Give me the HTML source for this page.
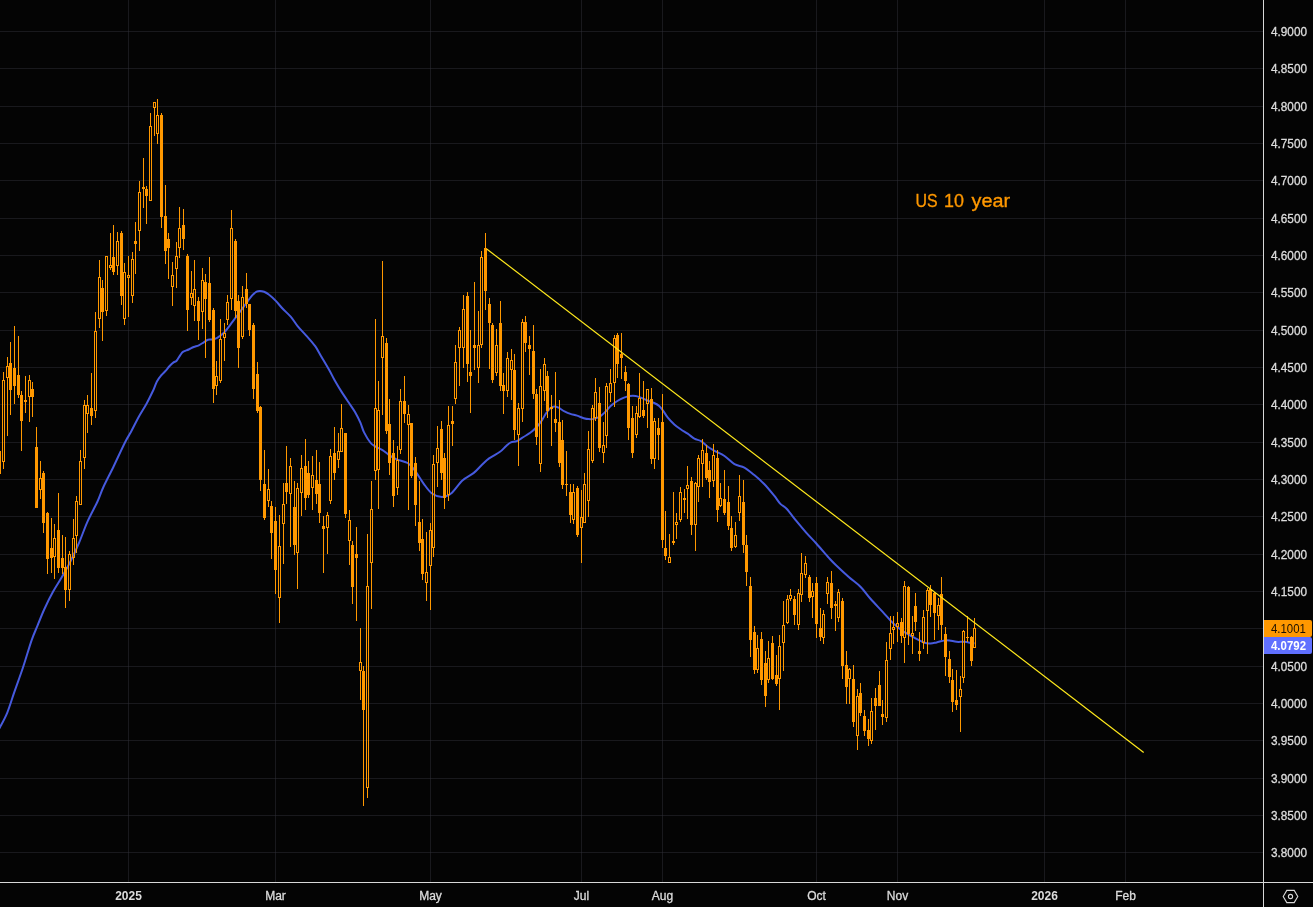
<!DOCTYPE html><html><head><meta charset="utf-8"><title>US 10 year</title>
<style>
html,body{margin:0;padding:0;background:#040404;}
body{width:1313px;height:907px;overflow:hidden;position:relative;font-family:"Liberation Sans","DejaVu Sans",sans-serif;}
svg{position:absolute;left:0;top:0;display:block}
.ax{fill:#dcdcdc;font-size:12px;stroke:#dcdcdc;stroke-width:0.3px;}
.b{font-weight:bold;stroke:none}
</style></head><body>
<svg width="1313" height="907" viewBox="0 0 1313 907">
<rect width="1313" height="907" fill="#040404"/>
<g fill="#32343c" fill-opacity="0.45" shape-rendering="crispEdges"><rect x="0" y="31" width="1263" height="1"/><rect x="0" y="68" width="1263" height="1"/><rect x="0" y="106" width="1263" height="1"/><rect x="0" y="143" width="1263" height="1"/><rect x="0" y="180" width="1263" height="1"/><rect x="0" y="218" width="1263" height="1"/><rect x="0" y="255" width="1263" height="1"/><rect x="0" y="292" width="1263" height="1"/><rect x="0" y="330" width="1263" height="1"/><rect x="0" y="367" width="1263" height="1"/><rect x="0" y="404" width="1263" height="1"/><rect x="0" y="442" width="1263" height="1"/><rect x="0" y="479" width="1263" height="1"/><rect x="0" y="516" width="1263" height="1"/><rect x="0" y="554" width="1263" height="1"/><rect x="0" y="591" width="1263" height="1"/><rect x="0" y="628" width="1263" height="1"/><rect x="0" y="666" width="1263" height="1"/><rect x="0" y="703" width="1263" height="1"/><rect x="0" y="740" width="1263" height="1"/><rect x="0" y="778" width="1263" height="1"/><rect x="0" y="815" width="1263" height="1"/><rect x="0" y="852" width="1263" height="1"/><rect x="128" y="0" width="1" height="882"/><rect x="275" y="0" width="1" height="882"/><rect x="430" y="0" width="1" height="882"/><rect x="581" y="0" width="1" height="882"/><rect x="662" y="0" width="1" height="882"/><rect x="816" y="0" width="1" height="882"/><rect x="897" y="0" width="1" height="882"/><rect x="1044" y="0" width="1" height="882"/><rect x="1125" y="0" width="1" height="882"/></g>
<path fill="none" stroke="#465ade" stroke-width="2" stroke-linejoin="round" d="M-1.0 729.0C-0.8 728.7 -1.4 729.9 0.0 727.2C1.4 724.5 4.8 718.6 7.2 712.8C9.6 707.0 11.7 699.7 14.3 692.2C16.9 684.7 20.0 676.4 22.9 667.8C25.8 659.2 29.1 647.5 31.5 640.6C33.9 633.7 35.1 631.5 37.3 626.2C39.4 620.9 41.8 614.7 44.4 609.0C47.0 603.3 50.1 597.0 53.0 591.8C55.9 586.5 58.7 582.5 61.6 577.5C64.5 572.5 67.4 567.4 70.3 561.7C73.2 556.0 76.0 549.8 78.9 543.1C81.8 536.4 84.4 528.5 87.5 521.6C90.6 514.7 94.8 507.3 97.5 501.5C100.2 495.7 100.7 492.9 103.4 487.0C106.1 481.1 110.1 473.7 113.7 466.2C117.3 458.7 122.2 447.9 125.1 442.2C128.0 436.5 128.7 436.1 130.9 432.0C133.1 427.9 135.8 422.2 138.4 417.4C141.1 412.6 144.3 407.8 146.8 403.2C149.3 398.6 151.8 393.4 153.5 389.8C155.2 386.2 155.6 383.8 156.9 381.4C158.2 379.0 159.7 377.2 161.1 375.5C162.5 373.8 163.8 372.8 165.2 371.3C166.6 369.8 168.0 367.8 169.4 366.3C170.8 364.8 172.4 363.3 173.6 362.4C174.8 361.5 175.5 362.0 176.6 360.8C177.7 359.6 179.2 356.6 180.3 355.1C181.4 353.6 181.9 352.6 183.3 351.7C184.7 350.8 187.0 350.3 188.7 349.5C190.4 348.7 192.0 347.7 193.7 347.0C195.4 346.3 197.1 346.1 198.8 345.3C200.5 344.5 202.3 343.2 203.8 342.3C205.3 341.4 206.6 340.3 208.0 339.8C209.4 339.3 210.7 339.8 212.2 339.5C213.7 339.2 215.2 338.9 217.2 337.8C219.1 336.7 221.7 335.0 223.9 332.8C226.1 330.6 228.7 326.9 230.6 324.4C232.5 321.9 233.9 319.9 235.6 317.7C237.3 315.5 238.6 313.6 240.6 311.0C242.6 308.4 245.3 304.4 247.3 301.8C249.3 299.2 250.8 296.8 252.4 295.1C254.0 293.4 255.4 292.4 256.6 291.7C257.9 291.0 258.6 290.9 259.9 290.9C261.1 290.9 262.6 291.1 264.1 291.7C265.6 292.3 267.2 293.2 269.1 294.7C271.1 296.2 273.6 298.6 275.8 300.9C278.0 303.2 280.0 305.8 282.5 308.5C285.0 311.2 288.4 314.0 290.9 316.9C293.4 319.8 295.1 323.0 297.6 326.1C300.1 329.2 303.1 332.0 306.0 335.3C308.9 338.6 312.7 342.7 315.2 346.2C317.7 349.7 318.7 352.1 321.1 356.2C323.5 360.2 327.3 366.5 329.5 370.5C331.7 374.5 332.5 376.5 334.5 380.0C336.5 383.5 338.9 387.6 341.3 391.4C343.7 395.2 346.6 399.4 348.9 402.8C351.2 406.2 353.1 408.7 355.0 412.0C356.9 415.3 358.9 419.3 360.4 422.7C361.9 426.1 362.5 429.3 364.2 432.6C365.9 435.9 368.4 440.1 370.3 442.5C372.2 444.9 373.6 445.4 375.6 446.7C377.6 448.0 380.4 448.8 382.5 450.1C384.6 451.4 386.2 453.1 388.5 454.6C390.8 456.1 393.0 457.8 396.2 459.2C399.4 460.6 404.6 461.2 407.6 463.0C410.6 464.8 411.7 466.5 414.4 469.9C417.1 473.3 420.7 479.7 423.6 483.6C426.5 487.5 428.9 491.3 432.0 493.5C435.1 495.7 438.7 497.0 441.9 497.0C445.1 497.0 447.6 496.2 451.0 493.5C454.4 490.8 458.6 483.9 462.4 480.5C466.2 477.1 470.6 475.4 473.8 472.9C477.0 470.4 478.9 467.7 481.5 465.3C484.1 462.9 486.0 460.6 489.1 458.4C492.2 456.1 497.2 453.8 500.0 451.8C502.8 449.8 504.1 447.8 505.9 446.2C507.7 444.6 509.1 443.2 510.9 442.4C512.7 441.6 514.7 442.1 516.8 441.2C518.9 440.3 521.3 438.4 523.5 437.0C525.7 435.6 528.1 434.3 530.2 432.8C532.3 431.3 534.0 429.9 536.0 427.8C538.0 425.7 540.2 422.7 541.9 420.3C543.6 417.9 544.7 415.2 546.1 413.2C547.5 411.2 548.9 409.3 550.3 408.2C551.7 407.1 553.1 406.6 554.5 406.5C555.9 406.4 556.9 406.9 558.6 407.7C560.3 408.5 562.5 410.4 564.5 411.4C566.5 412.4 568.3 413.2 570.4 413.9C572.5 414.6 574.9 414.9 577.1 415.6C579.3 416.3 581.8 417.7 583.8 418.3C585.8 418.9 587.0 419.1 588.8 419.1C590.6 419.2 592.8 419.1 594.7 418.6C596.7 418.1 598.7 417.3 600.5 416.1C602.3 414.9 603.9 413.3 605.6 411.6C607.3 409.9 608.7 407.8 610.6 406.0C612.5 404.2 615.1 402.4 617.3 401.0C619.5 399.6 621.9 398.4 624.0 397.6C626.1 396.8 627.9 396.3 629.9 396.0C631.9 395.7 633.9 395.7 635.7 396.0C637.5 396.3 638.8 396.9 640.8 397.6C642.8 398.4 645.3 399.6 647.5 400.5C649.7 401.4 652.2 402.1 654.2 403.0C656.2 403.9 657.7 404.6 659.2 406.0C660.7 407.4 662.0 409.2 663.4 411.1C664.8 413.0 665.8 415.2 667.6 417.4C669.4 419.6 672.1 422.5 674.3 424.5C676.5 426.5 678.8 428.0 681.0 429.5C683.2 431.0 685.5 432.2 687.7 433.7C689.9 435.2 692.2 437.4 694.4 438.7C696.6 439.9 698.9 439.9 701.1 441.2C703.3 442.5 705.6 445.1 707.8 446.7C710.0 448.3 711.7 449.2 714.5 450.8C717.3 452.4 721.2 453.8 724.5 456.0C727.8 458.2 731.2 462.3 734.5 464.2C737.8 466.1 741.1 465.8 744.4 467.6C747.7 469.4 751.0 472.4 754.3 475.1C757.6 477.8 760.9 480.6 764.2 484.0C767.5 487.4 771.5 492.4 774.2 495.7C776.9 499.0 778.3 501.7 780.4 503.9C782.5 506.1 783.9 505.9 786.6 508.8C789.3 511.7 793.2 517.2 796.5 521.2C799.8 525.2 803.1 529.2 806.4 532.9C809.7 536.6 812.6 539.4 816.3 543.5C820.0 547.6 825.5 554.1 828.7 557.7C832.0 561.3 832.4 561.8 835.8 565.0C839.1 568.2 844.6 573.3 848.8 577.0C852.9 580.7 857.1 583.3 860.7 587.0C864.4 590.7 867.0 594.9 870.7 599.0C874.4 603.1 879.0 607.9 882.7 611.9C886.4 615.9 889.4 619.7 892.7 622.9C896.0 626.1 899.0 628.4 902.6 630.9C906.2 633.4 910.9 635.8 914.6 637.8C918.3 639.8 921.9 641.9 924.6 642.8C927.3 643.7 928.6 643.5 930.6 643.4C932.6 643.3 934.0 642.9 936.6 642.4C939.2 641.9 943.2 640.3 946.5 640.2C949.8 640.1 953.5 641.5 956.5 641.8C959.5 642.1 961.8 641.6 964.5 641.8C967.2 642.0 970.8 643.0 972.5 643.2C974.2 643.5 974.2 643.3 974.5 643.3"/>
<g fill="#ff9800" fill-rule="evenodd" shape-rendering="crispEdges"><rect x="3" y="372" width="1" height="8"/><rect x="3" y="462" width="1" height="7"/><rect x="7" y="357" width="1" height="9"/><rect x="7" y="378" width="1" height="58"/><rect x="10" y="342" width="1" height="21"/><rect x="10" y="390" width="1" height="25"/><rect x="14" y="326" width="1" height="42"/><rect x="14" y="386" width="1" height="18"/><rect x="18" y="336" width="1" height="39"/><rect x="18" y="395" width="1" height="3"/><rect x="21" y="391" width="1" height="4"/><rect x="21" y="421" width="1" height="30"/><rect x="25" y="376" width="1" height="24"/><rect x="25" y="402" width="1" height="11"/><rect x="29" y="375" width="1" height="5"/><rect x="29" y="397" width="1" height="25"/><rect x="32" y="382" width="1" height="7"/><rect x="32" y="397" width="1" height="20"/><rect x="36" y="427" width="1" height="20"/><rect x="40" y="461" width="1" height="17"/><rect x="40" y="490" width="1" height="9"/><rect x="43" y="471" width="1" height="2"/><rect x="43" y="523" width="1" height="10"/><rect x="47" y="512" width="1" height="1"/><rect x="47" y="559" width="1" height="15"/><rect x="51" y="518" width="1" height="30"/><rect x="51" y="558" width="1" height="15"/><rect x="54" y="524" width="1" height="14"/><rect x="54" y="557" width="1" height="22"/><rect x="58" y="493" width="1" height="37"/><rect x="58" y="568" width="1" height="5"/><rect x="62" y="535" width="1" height="23"/><rect x="62" y="568" width="1" height="6"/><rect x="65" y="537" width="1" height="30"/><rect x="65" y="590" width="1" height="18"/><rect x="69" y="551" width="1" height="3"/><rect x="69" y="590" width="1" height="11"/><rect x="73" y="519" width="1" height="19"/><rect x="73" y="558" width="1" height="7"/><rect x="76" y="496" width="1" height="5"/><rect x="76" y="536" width="1" height="17"/><rect x="80" y="450" width="1" height="11"/><rect x="84" y="400" width="1" height="5"/><rect x="84" y="458" width="1" height="11"/><rect x="87" y="395" width="1" height="10"/><rect x="87" y="414" width="1" height="19"/><rect x="91" y="373" width="1" height="35"/><rect x="91" y="416" width="1" height="9"/><rect x="95" y="312" width="1" height="19"/><rect x="95" y="411" width="1" height="7"/><rect x="99" y="260" width="1" height="17"/><rect x="99" y="319" width="1" height="9"/><rect x="102" y="280" width="1" height="8"/><rect x="102" y="312" width="1" height="29"/><rect x="106" y="311" width="1" height="5"/><rect x="110" y="233" width="1" height="32"/><rect x="110" y="268" width="1" height="2"/><rect x="113" y="225" width="1" height="32"/><rect x="113" y="272" width="1" height="3"/><rect x="117" y="232" width="1" height="9"/><rect x="117" y="266" width="1" height="9"/><rect x="121" y="231" width="1" height="2"/><rect x="121" y="296" width="1" height="9"/><rect x="124" y="263" width="1" height="9"/><rect x="124" y="319" width="1" height="6"/><rect x="128" y="256" width="1" height="19"/><rect x="128" y="278" width="1" height="39"/><rect x="132" y="252" width="1" height="7"/><rect x="132" y="296" width="1" height="7"/><rect x="135" y="222" width="1" height="19"/><rect x="135" y="244" width="1" height="30"/><rect x="139" y="181" width="1" height="11"/><rect x="139" y="231" width="1" height="20"/><rect x="143" y="158" width="1" height="29"/><rect x="143" y="189" width="1" height="19"/><rect x="146" y="186" width="1" height="3"/><rect x="146" y="196" width="1" height="28"/><rect x="150" y="113" width="1" height="13"/><rect x="154" y="108" width="1" height="28"/><rect x="157" y="99" width="1" height="16"/><rect x="157" y="134" width="1" height="10"/><rect x="161" y="113" width="1" height="2"/><rect x="161" y="217" width="1" height="11"/><rect x="165" y="185" width="1" height="31"/><rect x="165" y="251" width="1" height="13"/><rect x="168" y="233" width="1" height="6"/><rect x="168" y="248" width="1" height="31"/><rect x="172" y="262" width="1" height="13"/><rect x="172" y="287" width="1" height="19"/><rect x="176" y="242" width="1" height="14"/><rect x="176" y="269" width="1" height="19"/><rect x="179" y="207" width="1" height="21"/><rect x="179" y="248" width="1" height="10"/><rect x="183" y="209" width="1" height="16"/><rect x="183" y="239" width="1" height="11"/><rect x="187" y="254" width="1" height="2"/><rect x="187" y="310" width="1" height="21"/><rect x="191" y="271" width="1" height="22"/><rect x="191" y="298" width="1" height="7"/><rect x="194" y="260" width="1" height="29"/><rect x="194" y="306" width="1" height="15"/><rect x="198" y="297" width="1" height="4"/><rect x="198" y="321" width="1" height="19"/><rect x="202" y="268" width="1" height="12"/><rect x="202" y="312" width="1" height="17"/><rect x="205" y="274" width="1" height="8"/><rect x="205" y="299" width="1" height="59"/><rect x="209" y="257" width="1" height="26"/><rect x="209" y="320" width="1" height="2"/><rect x="213" y="308" width="1" height="2"/><rect x="213" y="389" width="1" height="14"/><rect x="216" y="361" width="1" height="15"/><rect x="216" y="386" width="1" height="9"/><rect x="220" y="319" width="1" height="20"/><rect x="220" y="381" width="1" height="2"/><rect x="224" y="323" width="1" height="10"/><rect x="224" y="338" width="1" height="23"/><rect x="227" y="295" width="1" height="7"/><rect x="227" y="320" width="1" height="5"/><rect x="231" y="210" width="1" height="18"/><rect x="231" y="299" width="1" height="11"/><rect x="235" y="239" width="1" height="2"/><rect x="235" y="311" width="1" height="7"/><rect x="238" y="295" width="1" height="6"/><rect x="238" y="348" width="1" height="20"/><rect x="242" y="286" width="1" height="11"/><rect x="242" y="337" width="1" height="2"/><rect x="246" y="273" width="1" height="16"/><rect x="246" y="304" width="1" height="4"/><rect x="249" y="330" width="1" height="6"/><rect x="253" y="323" width="1" height="2"/><rect x="253" y="389" width="1" height="10"/><rect x="257" y="362" width="1" height="12"/><rect x="257" y="411" width="1" height="2"/><rect x="260" y="406" width="1" height="1"/><rect x="260" y="480" width="1" height="11"/><rect x="264" y="450" width="1" height="34"/><rect x="264" y="518" width="1" height="2"/><rect x="268" y="469" width="1" height="20"/><rect x="268" y="501" width="1" height="6"/><rect x="271" y="501" width="1" height="5"/><rect x="271" y="533" width="1" height="26"/><rect x="275" y="507" width="1" height="14"/><rect x="275" y="570" width="1" height="24"/><rect x="279" y="515" width="1" height="31"/><rect x="279" y="598" width="1" height="25"/><rect x="283" y="483" width="1" height="21"/><rect x="283" y="524" width="1" height="40"/><rect x="286" y="446" width="1" height="37"/><rect x="286" y="492" width="1" height="12"/><rect x="290" y="458" width="1" height="8"/><rect x="290" y="494" width="1" height="53"/><rect x="294" y="481" width="1" height="26"/><rect x="294" y="545" width="1" height="10"/><rect x="297" y="483" width="1" height="5"/><rect x="297" y="553" width="1" height="36"/><rect x="301" y="455" width="1" height="13"/><rect x="301" y="493" width="1" height="23"/><rect x="305" y="439" width="1" height="27"/><rect x="305" y="498" width="1" height="12"/><rect x="308" y="461" width="1" height="12"/><rect x="308" y="495" width="1" height="3"/><rect x="312" y="456" width="1" height="19"/><rect x="312" y="488" width="1" height="22"/><rect x="316" y="450" width="1" height="30"/><rect x="316" y="494" width="1" height="10"/><rect x="319" y="462" width="1" height="22"/><rect x="319" y="513" width="1" height="10"/><rect x="323" y="516" width="1" height="10"/><rect x="323" y="529" width="1" height="44"/><rect x="327" y="512" width="1" height="3"/><rect x="327" y="528" width="1" height="26"/><rect x="330" y="449" width="1" height="7"/><rect x="330" y="501" width="1" height="3"/><rect x="334" y="427" width="1" height="26"/><rect x="334" y="473" width="1" height="7"/><rect x="338" y="433" width="1" height="18"/><rect x="338" y="460" width="1" height="8"/><rect x="341" y="404" width="1" height="24"/><rect x="345" y="514" width="1" height="4"/><rect x="349" y="510" width="1" height="10"/><rect x="349" y="541" width="1" height="24"/><rect x="352" y="541" width="1" height="4"/><rect x="352" y="587" width="1" height="17"/><rect x="356" y="527" width="1" height="27"/><rect x="356" y="558" width="1" height="63"/><rect x="360" y="628" width="1" height="34"/><rect x="360" y="671" width="1" height="29"/><rect x="363" y="666" width="1" height="5"/><rect x="363" y="710" width="1" height="96"/><rect x="367" y="534" width="1" height="52"/><rect x="367" y="788" width="1" height="10"/><rect x="371" y="481" width="1" height="28"/><rect x="371" y="563" width="1" height="46"/><rect x="375" y="319" width="1" height="89"/><rect x="375" y="471" width="1" height="9"/><rect x="378" y="381" width="1" height="29"/><rect x="378" y="470" width="1" height="39"/><rect x="382" y="261" width="1" height="75"/><rect x="382" y="358" width="1" height="57"/><rect x="386" y="338" width="1" height="5"/><rect x="386" y="431" width="1" height="3"/><rect x="389" y="399" width="1" height="25"/><rect x="389" y="463" width="1" height="12"/><rect x="393" y="440" width="1" height="13"/><rect x="393" y="496" width="1" height="11"/><rect x="397" y="446" width="1" height="14"/><rect x="397" y="488" width="1" height="7"/><rect x="400" y="389" width="1" height="12"/><rect x="400" y="450" width="1" height="4"/><rect x="404" y="376" width="1" height="25"/><rect x="404" y="414" width="1" height="9"/><rect x="408" y="405" width="1" height="9"/><rect x="408" y="425" width="1" height="85"/><rect x="411" y="476" width="1" height="2"/><rect x="415" y="457" width="1" height="6"/><rect x="415" y="505" width="1" height="21"/><rect x="419" y="481" width="1" height="41"/><rect x="419" y="543" width="1" height="8"/><rect x="422" y="519" width="1" height="20"/><rect x="422" y="574" width="1" height="6"/><rect x="426" y="532" width="1" height="40"/><rect x="426" y="583" width="1" height="18"/><rect x="430" y="523" width="1" height="7"/><rect x="430" y="566" width="1" height="44"/><rect x="433" y="455" width="1" height="9"/><rect x="433" y="548" width="1" height="9"/><rect x="437" y="426" width="1" height="22"/><rect x="437" y="463" width="1" height="24"/><rect x="441" y="421" width="1" height="8"/><rect x="441" y="473" width="1" height="7"/><rect x="444" y="453" width="1" height="5"/><rect x="444" y="498" width="1" height="11"/><rect x="448" y="406" width="1" height="19"/><rect x="448" y="495" width="1" height="6"/><rect x="452" y="406" width="1" height="15"/><rect x="452" y="424" width="1" height="22"/><rect x="455" y="345" width="1" height="17"/><rect x="455" y="399" width="1" height="5"/><rect x="459" y="327" width="1" height="3"/><rect x="459" y="348" width="1" height="38"/><rect x="463" y="295" width="1" height="14"/><rect x="463" y="348" width="1" height="20"/><rect x="467" y="292" width="1" height="4"/><rect x="467" y="364" width="1" height="18"/><rect x="470" y="330" width="1" height="42"/><rect x="470" y="376" width="1" height="37"/><rect x="474" y="282" width="1" height="63"/><rect x="474" y="348" width="1" height="22"/><rect x="478" y="311" width="1" height="34"/><rect x="478" y="368" width="1" height="15"/><rect x="481" y="251" width="1" height="6"/><rect x="481" y="345" width="1" height="3"/><rect x="485" y="233" width="1" height="15"/><rect x="485" y="291" width="1" height="19"/><rect x="489" y="298" width="1" height="6"/><rect x="489" y="323" width="1" height="46"/><rect x="492" y="323" width="1" height="2"/><rect x="492" y="380" width="1" height="3"/><rect x="496" y="329" width="1" height="16"/><rect x="496" y="373" width="1" height="3"/><rect x="500" y="301" width="1" height="22"/><rect x="500" y="386" width="1" height="5"/><rect x="503" y="373" width="1" height="12"/><rect x="503" y="391" width="1" height="23"/><rect x="507" y="352" width="1" height="6"/><rect x="507" y="391" width="1" height="6"/><rect x="511" y="349" width="1" height="11"/><rect x="511" y="370" width="1" height="30"/><rect x="514" y="354" width="1" height="16"/><rect x="514" y="430" width="1" height="10"/><rect x="518" y="403" width="1" height="5"/><rect x="518" y="435" width="1" height="31"/><rect x="522" y="319" width="1" height="3"/><rect x="522" y="409" width="1" height="13"/><rect x="525" y="316" width="1" height="6"/><rect x="525" y="343" width="1" height="9"/><rect x="529" y="336" width="1" height="9"/><rect x="529" y="349" width="1" height="26"/><rect x="533" y="325" width="1" height="26"/><rect x="533" y="394" width="1" height="5"/><rect x="536" y="389" width="1" height="5"/><rect x="536" y="437" width="1" height="8"/><rect x="540" y="369" width="1" height="17"/><rect x="540" y="464" width="1" height="8"/><rect x="544" y="358" width="1" height="6"/><rect x="544" y="391" width="1" height="10"/><rect x="547" y="371" width="1" height="5"/><rect x="547" y="411" width="1" height="7"/><rect x="551" y="395" width="1" height="12"/><rect x="551" y="409" width="1" height="37"/><rect x="555" y="372" width="1" height="47"/><rect x="555" y="423" width="1" height="9"/><rect x="559" y="400" width="1" height="22"/><rect x="559" y="463" width="1" height="4"/><rect x="562" y="420" width="1" height="20"/><rect x="562" y="485" width="1" height="4"/><rect x="566" y="451" width="1" height="33"/><rect x="566" y="485" width="1" height="11"/><rect x="570" y="484" width="1" height="8"/><rect x="570" y="515" width="1" height="8"/><rect x="573" y="484" width="1" height="8"/><rect x="573" y="520" width="1" height="4"/><rect x="577" y="486" width="1" height="2"/><rect x="577" y="535" width="1" height="2"/><rect x="581" y="490" width="1" height="27"/><rect x="581" y="528" width="1" height="35"/><rect x="584" y="473" width="1" height="11"/><rect x="588" y="431" width="1" height="18"/><rect x="588" y="501" width="1" height="16"/><rect x="592" y="405" width="1" height="3"/><rect x="592" y="461" width="1" height="2"/><rect x="595" y="378" width="1" height="14"/><rect x="595" y="418" width="1" height="3"/><rect x="599" y="387" width="1" height="16"/><rect x="599" y="448" width="1" height="4"/><rect x="603" y="422" width="1" height="23"/><rect x="603" y="453" width="1" height="10"/><rect x="606" y="383" width="1" height="3"/><rect x="606" y="436" width="1" height="12"/><rect x="610" y="369" width="1" height="14"/><rect x="610" y="393" width="1" height="9"/><rect x="614" y="335" width="1" height="3"/><rect x="614" y="383" width="1" height="24"/><rect x="617" y="333" width="1" height="2"/><rect x="617" y="364" width="1" height="14"/><rect x="621" y="333" width="1" height="21"/><rect x="621" y="358" width="1" height="21"/><rect x="625" y="366" width="1" height="6"/><rect x="625" y="381" width="1" height="10"/><rect x="628" y="383" width="1" height="1"/><rect x="628" y="428" width="1" height="12"/><rect x="632" y="406" width="1" height="12"/><rect x="632" y="453" width="1" height="5"/><rect x="636" y="406" width="1" height="7"/><rect x="636" y="435" width="1" height="3"/><rect x="639" y="373" width="1" height="25"/><rect x="639" y="417" width="1" height="1"/><rect x="643" y="381" width="1" height="29"/><rect x="643" y="416" width="1" height="2"/><rect x="647" y="404" width="1" height="24"/><rect x="651" y="388" width="1" height="11"/><rect x="651" y="459" width="1" height="5"/><rect x="654" y="418" width="1" height="3"/><rect x="654" y="459" width="1" height="10"/><rect x="658" y="418" width="1" height="10"/><rect x="658" y="435" width="1" height="25"/><rect x="662" y="394" width="1" height="28"/><rect x="662" y="540" width="1" height="8"/><rect x="665" y="511" width="1" height="37"/><rect x="665" y="556" width="1" height="4"/><rect x="669" y="534" width="1" height="23"/><rect x="673" y="492" width="1" height="49"/><rect x="673" y="543" width="1" height="2"/><rect x="676" y="513" width="1" height="9"/><rect x="676" y="525" width="1" height="14"/><rect x="680" y="487" width="1" height="5"/><rect x="680" y="520" width="1" height="2"/><rect x="684" y="489" width="1" height="9"/><rect x="684" y="500" width="1" height="13"/><rect x="687" y="466" width="1" height="19"/><rect x="687" y="489" width="1" height="30"/><rect x="691" y="477" width="1" height="4"/><rect x="691" y="525" width="1" height="10"/><rect x="695" y="482" width="1" height="1"/><rect x="695" y="525" width="1" height="26"/><rect x="698" y="455" width="1" height="3"/><rect x="698" y="487" width="1" height="15"/><rect x="702" y="439" width="1" height="11"/><rect x="702" y="464" width="1" height="23"/><rect x="706" y="445" width="1" height="8"/><rect x="706" y="478" width="1" height="2"/><rect x="709" y="461" width="1" height="9"/><rect x="709" y="482" width="1" height="16"/><rect x="713" y="444" width="1" height="11"/><rect x="713" y="481" width="1" height="6"/><rect x="717" y="450" width="1" height="8"/><rect x="717" y="510" width="1" height="12"/><rect x="720" y="483" width="1" height="15"/><rect x="720" y="506" width="1" height="1"/><rect x="724" y="470" width="1" height="29"/><rect x="724" y="513" width="1" height="2"/><rect x="728" y="486" width="1" height="16"/><rect x="728" y="526" width="1" height="4"/><rect x="731" y="516" width="1" height="12"/><rect x="731" y="548" width="1" height="3"/><rect x="735" y="522" width="1" height="13"/><rect x="735" y="547" width="1" height="1"/><rect x="739" y="475" width="1" height="21"/><rect x="739" y="513" width="1" height="8"/><rect x="743" y="480" width="1" height="22"/><rect x="743" y="545" width="1" height="8"/><rect x="746" y="535" width="1" height="10"/><rect x="746" y="572" width="1" height="14"/><rect x="750" y="577" width="1" height="9"/><rect x="750" y="640" width="1" height="17"/><rect x="754" y="626" width="1" height="6"/><rect x="754" y="670" width="1" height="4"/><rect x="757" y="635" width="1" height="13"/><rect x="757" y="670" width="1" height="3"/><rect x="761" y="632" width="1" height="7"/><rect x="761" y="680" width="1" height="5"/><rect x="765" y="651" width="1" height="12"/><rect x="765" y="696" width="1" height="11"/><rect x="768" y="641" width="1" height="17"/><rect x="768" y="680" width="1" height="3"/><rect x="772" y="636" width="1" height="7"/><rect x="772" y="679" width="1" height="1"/><rect x="776" y="655" width="1" height="20"/><rect x="776" y="684" width="1" height="2"/><rect x="779" y="635" width="1" height="11"/><rect x="779" y="679" width="1" height="31"/><rect x="783" y="601" width="1" height="24"/><rect x="783" y="643" width="1" height="28"/><rect x="787" y="595" width="1" height="4"/><rect x="787" y="623" width="1" height="1"/><rect x="790" y="589" width="1" height="6"/><rect x="790" y="599" width="1" height="2"/><rect x="794" y="596" width="1" height="3"/><rect x="794" y="615" width="1" height="10"/><rect x="798" y="589" width="1" height="4"/><rect x="798" y="625" width="1" height="5"/><rect x="801" y="553" width="1" height="20"/><rect x="801" y="595" width="1" height="7"/><rect x="805" y="556" width="1" height="7"/><rect x="805" y="575" width="1" height="3"/><rect x="809" y="575" width="1" height="2"/><rect x="809" y="598" width="1" height="4"/><rect x="812" y="583" width="1" height="8"/><rect x="812" y="597" width="1" height="21"/><rect x="816" y="577" width="1" height="6"/><rect x="816" y="624" width="1" height="14"/><rect x="820" y="608" width="1" height="20"/><rect x="820" y="637" width="1" height="4"/><rect x="823" y="610" width="1" height="4"/><rect x="823" y="638" width="1" height="6"/><rect x="827" y="577" width="1" height="5"/><rect x="827" y="594" width="1" height="10"/><rect x="831" y="571" width="1" height="12"/><rect x="831" y="608" width="1" height="11"/><rect x="835" y="601" width="1" height="3"/><rect x="835" y="606" width="1" height="25"/><rect x="838" y="589" width="1" height="3"/><rect x="838" y="618" width="1" height="4"/><rect x="842" y="598" width="1" height="3"/><rect x="842" y="666" width="1" height="13"/><rect x="846" y="651" width="1" height="14"/><rect x="846" y="687" width="1" height="17"/><rect x="849" y="668" width="1" height="1"/><rect x="849" y="679" width="1" height="25"/><rect x="853" y="665" width="1" height="14"/><rect x="853" y="722" width="1" height="5"/><rect x="857" y="689" width="1" height="7"/><rect x="857" y="736" width="1" height="14"/><rect x="860" y="683" width="1" height="10"/><rect x="860" y="713" width="1" height="3"/><rect x="864" y="710" width="1" height="6"/><rect x="864" y="731" width="1" height="5"/><rect x="868" y="719" width="1" height="11"/><rect x="868" y="739" width="1" height="7"/><rect x="871" y="698" width="1" height="13"/><rect x="871" y="741" width="1" height="3"/><rect x="875" y="688" width="1" height="10"/><rect x="875" y="706" width="1" height="24"/><rect x="879" y="671" width="1" height="14"/><rect x="882" y="700" width="1" height="14"/><rect x="882" y="717" width="1" height="8"/><rect x="886" y="642" width="1" height="18"/><rect x="886" y="718" width="1" height="4"/><rect x="890" y="616" width="1" height="17"/><rect x="890" y="649" width="1" height="11"/><rect x="893" y="616" width="1" height="11"/><rect x="893" y="630" width="1" height="14"/><rect x="897" y="612" width="1" height="11"/><rect x="897" y="627" width="1" height="15"/><rect x="901" y="618" width="1" height="4"/><rect x="901" y="636" width="1" height="7"/><rect x="904" y="581" width="1" height="5"/><rect x="904" y="638" width="1" height="25"/><rect x="908" y="586" width="1" height="1"/><rect x="908" y="634" width="1" height="11"/><rect x="912" y="616" width="1" height="17"/><rect x="912" y="636" width="1" height="18"/><rect x="915" y="593" width="1" height="13"/><rect x="915" y="622" width="1" height="9"/><rect x="919" y="632" width="1" height="19"/><rect x="919" y="654" width="1" height="7"/><rect x="923" y="610" width="1" height="7"/><rect x="923" y="643" width="1" height="6"/><rect x="927" y="588" width="1" height="2"/><rect x="927" y="611" width="1" height="43"/><rect x="930" y="585" width="1" height="4"/><rect x="930" y="605" width="1" height="12"/><rect x="934" y="592" width="1" height="1"/><rect x="934" y="613" width="1" height="27"/><rect x="938" y="598" width="1" height="7"/><rect x="938" y="616" width="1" height="14"/><rect x="941" y="577" width="1" height="17"/><rect x="941" y="625" width="1" height="15"/><rect x="945" y="627" width="1" height="7"/><rect x="945" y="657" width="1" height="19"/><rect x="949" y="651" width="1" height="8"/><rect x="949" y="677" width="1" height="6"/><rect x="952" y="669" width="1" height="11"/><rect x="952" y="702" width="1" height="10"/><rect x="956" y="670" width="1" height="30"/><rect x="956" y="705" width="1" height="5"/><rect x="960" y="676" width="1" height="13"/><rect x="960" y="697" width="1" height="35"/><rect x="963" y="630" width="1" height="1"/><rect x="963" y="678" width="1" height="5"/><rect x="967" y="616" width="1" height="21"/><rect x="967" y="638" width="1" height="4"/><rect x="971" y="636" width="1" height="1"/><rect x="971" y="661" width="1" height="5"/><rect x="974" y="618" width="1" height="10"/><rect x="-2" y="451" width="3" height="23"/><rect x="9" y="363" width="3" height="27"/><rect x="13" y="368" width="3" height="18"/><rect x="17" y="375" width="3" height="20"/><rect x="20" y="395" width="3" height="26"/><rect x="24" y="400" width="3" height="2"/><rect x="31" y="389" width="3" height="8"/><rect x="35" y="447" width="3" height="61"/><rect x="42" y="473" width="3" height="50"/><rect x="46" y="513" width="3" height="46"/><rect x="50" y="548" width="3" height="10"/><rect x="57" y="530" width="3" height="38"/><rect x="61" y="558" width="3" height="10"/><rect x="64" y="567" width="3" height="23"/><rect x="90" y="408" width="3" height="8"/><rect x="101" y="288" width="3" height="24"/><rect x="112" y="257" width="3" height="15"/><rect x="120" y="233" width="3" height="63"/><rect x="134" y="241" width="3" height="3"/><rect x="142" y="187" width="3" height="2"/><rect x="145" y="189" width="3" height="7"/><rect x="160" y="115" width="3" height="102"/><rect x="164" y="216" width="3" height="35"/><rect x="167" y="239" width="3" height="9"/><rect x="182" y="225" width="3" height="14"/><rect x="186" y="256" width="3" height="54"/><rect x="197" y="301" width="3" height="20"/><rect x="204" y="282" width="3" height="17"/><rect x="208" y="283" width="3" height="37"/><rect x="212" y="310" width="3" height="79"/><rect x="234" y="241" width="3" height="70"/><rect x="237" y="301" width="3" height="47"/><rect x="245" y="289" width="3" height="15"/><rect x="248" y="304" width="3" height="26"/><rect x="252" y="325" width="3" height="64"/><rect x="256" y="374" width="3" height="37"/><rect x="259" y="407" width="3" height="73"/><rect x="263" y="484" width="3" height="34"/><rect x="270" y="506" width="3" height="27"/><rect x="274" y="521" width="3" height="49"/><rect x="285" y="483" width="3" height="9"/><rect x="293" y="507" width="3" height="38"/><rect x="304" y="466" width="3" height="32"/><rect x="307" y="473" width="3" height="22"/><rect x="315" y="480" width="3" height="14"/><rect x="318" y="484" width="3" height="29"/><rect x="322" y="526" width="3" height="3"/><rect x="333" y="453" width="3" height="20"/><rect x="344" y="433" width="3" height="81"/><rect x="351" y="545" width="3" height="42"/><rect x="355" y="554" width="3" height="4"/><rect x="362" y="671" width="3" height="39"/><rect x="385" y="343" width="3" height="88"/><rect x="388" y="424" width="3" height="39"/><rect x="392" y="453" width="3" height="43"/><rect x="403" y="401" width="3" height="13"/><rect x="410" y="423" width="3" height="53"/><rect x="414" y="463" width="3" height="42"/><rect x="418" y="522" width="3" height="21"/><rect x="421" y="539" width="3" height="35"/><rect x="440" y="429" width="3" height="44"/><rect x="443" y="458" width="3" height="40"/><rect x="451" y="421" width="3" height="3"/><rect x="466" y="296" width="3" height="68"/><rect x="469" y="372" width="3" height="4"/><rect x="473" y="345" width="3" height="3"/><rect x="484" y="248" width="3" height="43"/><rect x="488" y="304" width="3" height="19"/><rect x="491" y="325" width="3" height="55"/><rect x="499" y="323" width="3" height="63"/><rect x="502" y="385" width="3" height="6"/><rect x="513" y="370" width="3" height="60"/><rect x="524" y="322" width="3" height="21"/><rect x="528" y="345" width="3" height="4"/><rect x="532" y="351" width="3" height="43"/><rect x="535" y="394" width="3" height="43"/><rect x="546" y="376" width="3" height="35"/><rect x="550" y="407" width="3" height="2"/><rect x="554" y="419" width="3" height="4"/><rect x="558" y="422" width="3" height="41"/><rect x="561" y="440" width="3" height="45"/><rect x="565" y="484" width="3" height="1"/><rect x="569" y="492" width="3" height="23"/><rect x="576" y="488" width="3" height="47"/><rect x="598" y="403" width="3" height="45"/><rect x="616" y="335" width="3" height="29"/><rect x="620" y="354" width="3" height="4"/><rect x="624" y="372" width="3" height="9"/><rect x="627" y="384" width="3" height="44"/><rect x="631" y="418" width="3" height="35"/><rect x="642" y="410" width="3" height="6"/><rect x="650" y="399" width="3" height="60"/><rect x="657" y="428" width="3" height="7"/><rect x="661" y="422" width="3" height="118"/><rect x="664" y="548" width="3" height="8"/><rect x="672" y="541" width="3" height="2"/><rect x="683" y="498" width="3" height="2"/><rect x="690" y="481" width="3" height="44"/><rect x="705" y="453" width="3" height="25"/><rect x="708" y="470" width="3" height="12"/><rect x="716" y="458" width="3" height="52"/><rect x="723" y="499" width="3" height="14"/><rect x="727" y="502" width="3" height="24"/><rect x="730" y="528" width="3" height="20"/><rect x="742" y="502" width="3" height="43"/><rect x="745" y="545" width="3" height="27"/><rect x="749" y="586" width="3" height="54"/><rect x="753" y="632" width="3" height="38"/><rect x="760" y="639" width="3" height="41"/><rect x="764" y="663" width="3" height="33"/><rect x="771" y="643" width="3" height="36"/><rect x="775" y="675" width="3" height="9"/><rect x="793" y="599" width="3" height="16"/><rect x="808" y="577" width="3" height="21"/><rect x="815" y="583" width="3" height="41"/><rect x="819" y="628" width="3" height="9"/><rect x="830" y="583" width="3" height="25"/><rect x="834" y="604" width="3" height="2"/><rect x="841" y="601" width="3" height="65"/><rect x="845" y="665" width="3" height="22"/><rect x="852" y="679" width="3" height="43"/><rect x="859" y="693" width="3" height="20"/><rect x="863" y="716" width="3" height="15"/><rect x="867" y="730" width="3" height="9"/><rect x="874" y="698" width="3" height="8"/><rect x="878" y="685" width="3" height="21"/><rect x="881" y="714" width="3" height="3"/><rect x="900" y="622" width="3" height="14"/><rect x="907" y="587" width="3" height="47"/><rect x="914" y="606" width="3" height="16"/><rect x="918" y="651" width="3" height="3"/><rect x="929" y="589" width="3" height="16"/><rect x="933" y="593" width="3" height="20"/><rect x="940" y="594" width="3" height="31"/><rect x="944" y="634" width="3" height="23"/><rect x="948" y="659" width="3" height="18"/><rect x="951" y="680" width="3" height="22"/><rect x="955" y="700" width="3" height="5"/><rect x="966" y="637" width="3" height="1"/><rect x="970" y="637" width="3" height="24"/><path d="M2 380h3v82h-3zM3 381v80h1v-80z"/><path d="M6 366h3v12h-3zM7 367v10h1v-10z"/><path d="M28 380h3v17h-3zM29 381v15h1v-15z"/><path d="M39 478h3v12h-3zM40 479v10h1v-10z"/><path d="M53 538h3v19h-3zM54 539v17h1v-17z"/><path d="M68 554h3v36h-3zM69 555v34h1v-34z"/><path d="M72 538h3v20h-3zM73 539v18h1v-18z"/><path d="M75 501h3v35h-3zM76 502v33h1v-33z"/><path d="M79 461h3v44h-3zM80 462v42h1v-42z"/><path d="M83 405h3v53h-3zM84 406v51h1v-51z"/><path d="M86 405h3v9h-3zM87 406v7h1v-7z"/><path d="M94 331h3v80h-3zM95 332v78h1v-78z"/><path d="M98 277h3v42h-3zM99 278v40h1v-40z"/><path d="M105 256h3v55h-3zM106 257v53h1v-53z"/><path d="M109 265h3v3h-3zM110 266v1h1v-1z"/><path d="M116 241h3v25h-3zM117 242v23h1v-23z"/><path d="M123 272h3v47h-3zM124 273v45h1v-45z"/><path d="M127 275h3v3h-3zM128 276v1h1v-1z"/><path d="M131 259h3v37h-3zM132 260v35h1v-35z"/><path d="M138 192h3v39h-3zM139 193v37h1v-37z"/><path d="M149 126h3v75h-3zM150 127v73h1v-73z"/><path d="M153 102h3v6h-3zM154 103v4h1v-4z"/><path d="M156 115h3v19h-3zM157 116v17h1v-17z"/><path d="M171 275h3v12h-3zM172 276v10h1v-10z"/><path d="M175 256h3v13h-3zM176 257v11h1v-11z"/><path d="M178 228h3v20h-3zM179 229v18h1v-18z"/><path d="M190 293h3v5h-3zM191 294v3h1v-3z"/><path d="M193 289h3v17h-3zM194 290v15h1v-15z"/><path d="M201 280h3v32h-3zM202 281v30h1v-30z"/><path d="M215 376h3v10h-3zM216 377v8h1v-8z"/><path d="M219 339h3v42h-3zM220 340v40h1v-40z"/><path d="M223 333h3v5h-3zM224 334v3h1v-3z"/><path d="M226 302h3v18h-3zM227 303v16h1v-16z"/><path d="M230 228h3v71h-3zM231 229v69h1v-69z"/><path d="M241 297h3v40h-3zM242 298v38h1v-38z"/><path d="M267 489h3v12h-3zM268 490v10h1v-10z"/><path d="M278 546h3v52h-3zM279 547v50h1v-50z"/><path d="M282 504h3v20h-3zM283 505v18h1v-18z"/><path d="M289 466h3v28h-3zM290 467v26h1v-26z"/><path d="M296 488h3v65h-3zM297 489v63h1v-63z"/><path d="M300 468h3v25h-3zM301 469v23h1v-23z"/><path d="M311 475h3v13h-3zM312 476v11h1v-11z"/><path d="M326 515h3v13h-3zM327 516v11h1v-11z"/><path d="M329 456h3v45h-3zM330 457v43h1v-43z"/><path d="M337 451h3v9h-3zM338 452v7h1v-7z"/><path d="M340 428h3v24h-3zM341 429v22h1v-22z"/><path d="M348 520h3v21h-3zM349 521v19h1v-19z"/><path d="M359 662h3v9h-3zM360 663v7h1v-7z"/><path d="M366 586h3v202h-3zM367 587v200h1v-200z"/><path d="M370 509h3v54h-3zM371 510v52h1v-52z"/><path d="M374 408h3v63h-3zM375 409v61h1v-61z"/><path d="M377 410h3v60h-3zM378 411v58h1v-58z"/><path d="M381 336h3v22h-3zM382 337v20h1v-20z"/><path d="M396 460h3v28h-3zM397 461v26h1v-26z"/><path d="M399 401h3v49h-3zM400 402v47h1v-47z"/><path d="M407 414h3v11h-3zM408 415v9h1v-9z"/><path d="M425 572h3v11h-3zM426 573v9h1v-9z"/><path d="M429 530h3v36h-3zM430 531v34h1v-34z"/><path d="M432 464h3v84h-3zM433 465v82h1v-82z"/><path d="M436 448h3v15h-3zM437 449v13h1v-13z"/><path d="M447 425h3v70h-3zM448 426v68h1v-68z"/><path d="M454 362h3v37h-3zM455 363v35h1v-35z"/><path d="M458 330h3v18h-3zM459 331v16h1v-16z"/><path d="M462 309h3v39h-3zM463 310v37h1v-37z"/><path d="M477 345h3v23h-3zM478 346v21h1v-21z"/><path d="M480 257h3v88h-3zM481 258v86h1v-86z"/><path d="M495 345h3v28h-3zM496 346v26h1v-26z"/><path d="M506 358h3v33h-3zM507 359v31h1v-31z"/><path d="M510 360h3v10h-3zM511 361v8h1v-8z"/><path d="M517 408h3v27h-3zM518 409v25h1v-25z"/><path d="M521 322h3v87h-3zM522 323v85h1v-85z"/><path d="M539 386h3v78h-3zM540 387v76h1v-76z"/><path d="M543 364h3v27h-3zM544 365v25h1v-25z"/><path d="M572 492h3v28h-3zM573 493v26h1v-26z"/><path d="M580 517h3v11h-3zM581 518v9h1v-9z"/><path d="M583 484h3v39h-3zM584 485v37h1v-37z"/><path d="M587 449h3v52h-3zM588 450v50h1v-50z"/><path d="M591 408h3v53h-3zM592 409v51h1v-51z"/><path d="M594 392h3v26h-3zM595 393v24h1v-24z"/><path d="M602 445h3v8h-3zM603 446v6h1v-6z"/><path d="M605 386h3v50h-3zM606 387v48h1v-48z"/><path d="M609 383h3v10h-3zM610 384v8h1v-8z"/><path d="M613 338h3v45h-3zM614 339v43h1v-43z"/><path d="M635 413h3v22h-3zM636 414v20h1v-20z"/><path d="M638 398h3v19h-3zM639 399v17h1v-17z"/><path d="M646 389h3v15h-3zM647 390v13h1v-13z"/><path d="M653 421h3v38h-3zM654 422v36h1v-36z"/><path d="M668 557h3v6h-3zM669 558v4h1v-4z"/><path d="M675 522h3v3h-3zM676 523v1h1v-1z"/><path d="M679 492h3v28h-3zM680 493v26h1v-26z"/><path d="M686 485h3v4h-3zM687 486v2h1v-2z"/><path d="M694 483h3v42h-3zM695 484v40h1v-40z"/><path d="M697 458h3v29h-3zM698 459v27h1v-27z"/><path d="M701 450h3v14h-3zM702 451v12h1v-12z"/><path d="M712 455h3v26h-3zM713 456v24h1v-24z"/><path d="M719 498h3v8h-3zM720 499v6h1v-6z"/><path d="M734 535h3v12h-3zM735 536v10h1v-10z"/><path d="M738 496h3v17h-3zM739 497v15h1v-15z"/><path d="M756 648h3v22h-3zM757 649v20h1v-20z"/><path d="M767 658h3v22h-3zM768 659v20h1v-20z"/><path d="M778 646h3v33h-3zM779 647v31h1v-31z"/><path d="M782 625h3v18h-3zM783 626v16h1v-16z"/><path d="M786 599h3v24h-3zM787 600v22h1v-22z"/><path d="M789 595h3v4h-3zM790 596v2h1v-2z"/><path d="M797 593h3v32h-3zM798 594v30h1v-30z"/><path d="M800 573h3v22h-3zM801 574v20h1v-20z"/><path d="M804 563h3v12h-3zM805 564v10h1v-10z"/><path d="M811 591h3v6h-3zM812 592v4h1v-4z"/><path d="M822 614h3v24h-3zM823 615v22h1v-22z"/><path d="M826 582h3v12h-3zM827 583v10h1v-10z"/><path d="M837 592h3v26h-3zM838 593v24h1v-24z"/><path d="M848 669h3v10h-3zM849 670v8h1v-8z"/><path d="M856 696h3v40h-3zM857 697v38h1v-38z"/><path d="M870 711h3v30h-3zM871 712v28h1v-28z"/><path d="M885 660h3v58h-3zM886 661v56h1v-56z"/><path d="M889 633h3v16h-3zM890 634v14h1v-14z"/><path d="M892 627h3v3h-3zM893 628v1h1v-1z"/><path d="M896 623h3v4h-3zM897 624v2h1v-2z"/><path d="M903 586h3v52h-3zM904 587v50h1v-50z"/><path d="M911 633h3v3h-3zM912 634v1h1v-1z"/><path d="M922 617h3v26h-3zM923 618v24h1v-24z"/><path d="M926 590h3v21h-3zM927 591v19h1v-19z"/><path d="M937 605h3v11h-3zM938 606v9h1v-9z"/><path d="M959 689h3v8h-3zM960 690v6h1v-6z"/><path d="M962 631h3v47h-3zM963 632v45h1v-45z"/><path d="M973 628h3v20h-3zM974 629v18h1v-18z"/></g>
<line x1="486.7" y1="249" x2="1143.7" y2="752.4" stroke="#ffe91c" stroke-width="1.2"/>
<g fill="#d8d8d8" shape-rendering="crispEdges"><rect x="0" y="882" width="1313" height="1"/><rect x="1263" y="0" width="1" height="907"/></g>
<g class="ax"><text x="1271" y="36.0" textLength="36" lengthAdjust="spacingAndGlyphs">4.9000</text><text x="1271" y="73.3" textLength="36" lengthAdjust="spacingAndGlyphs">4.8500</text><text x="1271" y="110.7" textLength="36" lengthAdjust="spacingAndGlyphs">4.8000</text><text x="1271" y="148.0" textLength="36" lengthAdjust="spacingAndGlyphs">4.7500</text><text x="1271" y="185.3" textLength="36" lengthAdjust="spacingAndGlyphs">4.7000</text><text x="1271" y="222.7" textLength="36" lengthAdjust="spacingAndGlyphs">4.6500</text><text x="1271" y="260.0" textLength="36" lengthAdjust="spacingAndGlyphs">4.6000</text><text x="1271" y="297.3" textLength="36" lengthAdjust="spacingAndGlyphs">4.5500</text><text x="1271" y="334.7" textLength="36" lengthAdjust="spacingAndGlyphs">4.5000</text><text x="1271" y="372.0" textLength="36" lengthAdjust="spacingAndGlyphs">4.4500</text><text x="1271" y="409.3" textLength="36" lengthAdjust="spacingAndGlyphs">4.4000</text><text x="1271" y="446.7" textLength="36" lengthAdjust="spacingAndGlyphs">4.3500</text><text x="1271" y="484.0" textLength="36" lengthAdjust="spacingAndGlyphs">4.3000</text><text x="1271" y="521.3" textLength="36" lengthAdjust="spacingAndGlyphs">4.2500</text><text x="1271" y="558.7" textLength="36" lengthAdjust="spacingAndGlyphs">4.2000</text><text x="1271" y="596.0" textLength="36" lengthAdjust="spacingAndGlyphs">4.1500</text><text x="1271" y="670.7" textLength="36" lengthAdjust="spacingAndGlyphs">4.0500</text><text x="1271" y="708.0" textLength="36" lengthAdjust="spacingAndGlyphs">4.0000</text><text x="1271" y="745.3" textLength="36" lengthAdjust="spacingAndGlyphs">3.9500</text><text x="1271" y="782.7" textLength="36" lengthAdjust="spacingAndGlyphs">3.9000</text><text x="1271" y="820.0" textLength="36" lengthAdjust="spacingAndGlyphs">3.8500</text><text x="1271" y="857.3" textLength="36" lengthAdjust="spacingAndGlyphs">3.8000</text></g>
<path d="M1264 620H1310a2 2 0 0 1 2 2V635a2 2 0 0 1-2 2H1264Z" fill="#ff9800"/><path d="M1264 637H1310a2 2 0 0 1 2 2V652a2 2 0 0 1-2 2H1264Z" fill="#6070ff"/>
<text x="1271" y="632.8" font-size="12" fill="#1a1000" textLength="34.8" lengthAdjust="spacingAndGlyphs">4.1001</text>
<text x="1271" y="649.8" font-size="12" font-weight="bold" fill="#ffffff" textLength="35" lengthAdjust="spacingAndGlyphs">4.0792</text>
<g class="ax" text-anchor="middle"><text x="128.5" y="900" class="b">2025</text><text x="275.5" y="900">Mar</text><text x="430.5" y="900">May</text><text x="581.5" y="900">Jul</text><text x="662.5" y="900">Aug</text><text x="816.5" y="900">Oct</text><text x="897.5" y="900">Nov</text><text x="1044.5" y="900" class="b">2026</text><text x="1125.5" y="900">Feb</text></g>
<g font-size="19" fill="#ff9800" stroke="#ff9800" stroke-width="0.35"><text x="915.4" y="206.8" textLength="22.1" lengthAdjust="spacingAndGlyphs">US</text><text x="944.0" y="206.8" textLength="19.9" lengthAdjust="spacingAndGlyphs">10</text><text x="971.5" y="206.8" textLength="38.6" lengthAdjust="spacingAndGlyphs">year</text></g>
<g fill="none" stroke="#d8d8d8" stroke-width="1.1"><path d="M1283.2 896.5 L1286.8 890.4 H1294.2 L1297.8 896.5 L1294.2 902.6 H1286.8 Z"/><circle cx="1290.5" cy="896.5" r="2.1"/></g>
</svg></body></html>
